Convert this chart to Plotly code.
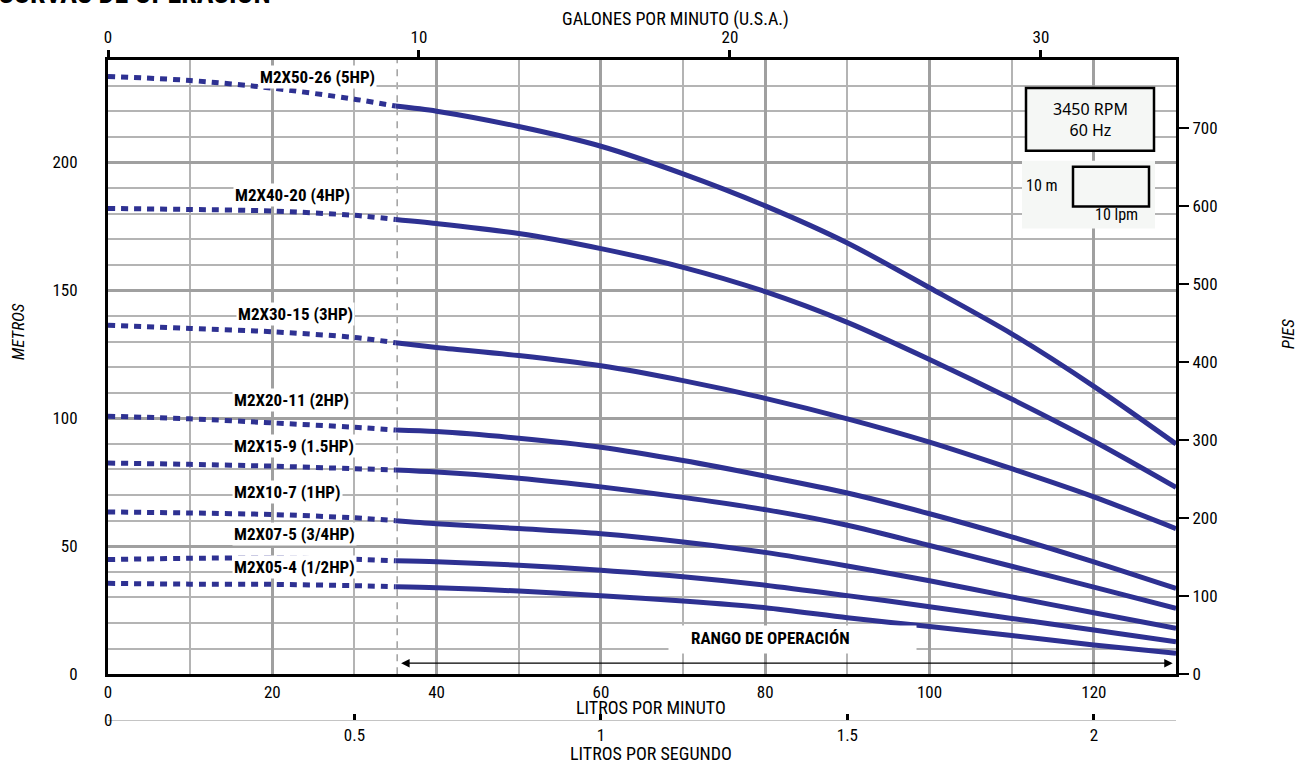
import plotly.graph_objects as go

# ---------------- data ----------------
LPM = [0, 10, 20, 30, 35, 40, 50, 60, 70, 80, 90, 100, 110, 120, 130]
SPLIT_LPM = 35

MODELS = ["M2X50-26 (5HP)", "M2X40-20 (4HP)", "M2X30-15 (3HP)", "M2X20-11 (2HP)",
          "M2X15-9 (1.5HP)", "M2X10-7 (1HP)", "M2X07-5 (3/4HP)", "M2X05-4 (1/2HP)"]

HEAD_50_26 = [233.6, 232.0, 229.0, 224.7, 222.0, 220.0, 214.0, 206.3, 195.5, 183.0, 168.5, 151.0, 133.0, 112.5, 90.0]
HEAD_40_20 = [182.0, 181.6, 181.0, 179.3, 177.7, 176.1, 172.2, 166.3, 159.0, 149.5, 137.5, 123.0, 107.5, 91.0, 73.0]
HEAD_30_15 = [136.4, 135.1, 133.8, 131.6, 129.5, 127.7, 124.5, 120.5, 114.7, 107.8, 99.8, 90.7, 80.3, 69.3, 56.9]
HEAD_20_11 = [100.8, 99.8, 98.2, 96.5, 95.4, 94.8, 92.2, 88.7, 83.5, 77.4, 70.8, 62.7, 53.7, 43.9, 33.5]
HEAD_15_9 = [82.5, 82.0, 81.3, 80.3, 79.8, 79.0, 76.6, 73.2, 69.1, 64.3, 58.2, 50.3, 42.2, 34.0, 25.7]
HEAD_10_7 = [63.4, 63.0, 62.4, 61.1, 60.0, 58.8, 56.9, 54.9, 51.7, 47.6, 42.3, 36.5, 30.2, 24.0, 17.9]
HEAD_07_5 = [44.8, 45.3, 45.4, 44.9, 44.3, 43.9, 42.6, 40.6, 38.1, 34.8, 30.7, 26.4, 21.8, 17.3, 12.7]
HEAD_05_4 = [35.5, 35.2, 35.1, 34.6, 34.2, 33.8, 32.5, 30.7, 28.6, 26.0, 22.1, 18.6, 15.1, 11.4, 8.2]

HEADS = [HEAD_50_26, HEAD_40_20, HEAD_30_15, HEAD_20_11, HEAD_15_9, HEAD_10_7, HEAD_07_5, HEAD_05_4]

LPM_TICKS = [0, 20, 40, 60, 80, 100, 120]
M_TICKS = [0, 50, 100, 150, 200]
GPM_TICKS = [0, 10, 20, 30]
FT_TICKS = [0, 100, 200, 300, 400, 500, 600, 700]
LPS_TICKS = [0.5, 1, 1.5, 2]
OP_RANGE = [35.5, 129.6]

LPM_MAX = 130
M_MAX = 240
LPM_PER_GPM = 3.78541
M_PER_FT = 0.3048

# ---------------- layout helpers ----------------
W, H = 1305, 768
ML, MR, MT, MB = 108, 129, 60, 20
PW, PH = W - ML - MR, H - MT - MB


def px(x):
    return (x - ML) / PW


def py(y):
    return (H - MB - y) / PH


COND = "Roboto Condensed, Roboto, Liberation Sans, sans-serif"
BLUE = "#2e3192"

fig = go.Figure()

i_split = LPM.index(SPLIT_LPM)
for name, head in zip(MODELS, HEADS):
    fig.add_trace(go.Scatter(x=LPM[:i_split + 1], y=head[:i_split + 1], mode="lines",
                             line=dict(color=BLUE, width=5, dash="7px,6px", shape="spline", smoothing=0.8),
                             showlegend=False, hoverinfo="skip", xaxis="x", yaxis="y"))
    fig.add_trace(go.Scatter(x=LPM[i_split:], y=head[i_split:], mode="lines", name=name,
                             line=dict(color=BLUE, width=5, shape="spline", smoothing=0.8),
                             showlegend=False, xaxis="x", yaxis="y"))

# dummy traces so the secondary axes are drawn
fig.add_trace(go.Scatter(x=[], y=[], xaxis="x2", yaxis="y", showlegend=False))
fig.add_trace(go.Scatter(x=[], y=[], xaxis="x", yaxis="y2", showlegend=False))
fig.add_trace(go.Scatter(x=[], y=[], xaxis="x3", yaxis="y", showlegend=False))

tickfont = dict(family=COND, size=17, color="black")

fig.update_layout(
    width=W, height=H,
    margin=dict(l=ML, r=MR, t=MT, b=MB),
    paper_bgcolor="white", plot_bgcolor="white",
    xaxis=dict(range=[0, LPM_MAX], tickvals=LPM_TICKS, ticks="", tickfont=tickfont,
               showline=True, linecolor="black", linewidth=3, mirror=True,
               showgrid=True, gridcolor="#a0a0a0", gridwidth=2.5, zeroline=False,
               minor=dict(dtick=10, tick0=0, showgrid=True, gridcolor="#b4b4b4", gridwidth=1.5),
               anchor="y"),
    yaxis=dict(range=[0, M_MAX], tickvals=M_TICKS, ticks="", tickfont=tickfont,
               domain=[py(676), 1], ticklabelstandoff=24,
               showline=True, linecolor="black", linewidth=3, mirror=True,
               showgrid=True, gridcolor="#a0a0a0", gridwidth=2.5, zeroline=False,
               minor=dict(dtick=10, tick0=0, showgrid=True, gridcolor="#b4b4b4", gridwidth=1.5),
               anchor="x"),
    xaxis2=dict(range=[0, LPM_MAX / LPM_PER_GPM], tickvals=GPM_TICKS, overlaying="x", side="top",
                anchor="y", ticks="outside", ticklen=9, tickwidth=3, tickcolor="black",
                tickfont=tickfont, showgrid=False, zeroline=False, showline=False),
    yaxis2=dict(range=[0, M_MAX / M_PER_FT], tickvals=FT_TICKS, overlaying="y", side="right",
                anchor="x", ticks="outside", ticklen=12, tickwidth=1.5, tickcolor="black",
                tickfont=tickfont, showgrid=False, zeroline=False, showline=False),
    xaxis3=dict(range=[0, LPM_MAX / 60], tickvals=LPS_TICKS, overlaying="x", side="bottom",
                anchor="free", position=py(722), ticks="inside", ticklen=6, tickwidth=3,
                tickcolor="black", tickfont=tickfont, showgrid=False, zeroline=False,
                showline=True, linecolor="#c4c4c4", linewidth=1),
)

shapes = []
# operating-range limit (dashed vertical)
shapes.append(dict(type="line", xref="x", yref="y domain", x0=OP_RANGE[0] - 0.3, x1=OP_RANGE[0] - 0.3,
                   y0=0, y1=1, line=dict(color="#a0a0a0", width=1.5, dash="7px,6px"), layer="below"))
# RPM box
shapes.append(dict(type="rect", xref="paper", yref="paper", x0=px(1026), x1=px(1154), y0=py(151), y1=py(88),
                   fillcolor="#f5f7f5", line=dict(color="black", width=2.5), layer="above"))
# scale box background + inner box
shapes.append(dict(type="rect", xref="paper", yref="paper", x0=px(1022), x1=px(1155), y0=py(229), y1=py(161),
                   fillcolor="#f5f7f5", line=dict(width=0), layer="above"))
shapes.append(dict(type="rect", xref="paper", yref="paper", x0=px(1073), x1=px(1149), y0=py(207), y1=py(167),
                   fillcolor="#f5f7f5", line=dict(color="black", width=2.5), layer="above"))
fig.update_layout(shapes=shapes)

LABEL_POS = [(260, 77), (235, 195), (238, 315), (234, 401), (234, 447), (234, 493), (234, 535), (234, 568)]

ann = []
for name, (lx, ly) in zip(MODELS, LABEL_POS):
    ann.append(dict(text="<b>" + name + "</b>", xref="paper", yref="paper", x=px(lx - 2), y=py(ly),
                    xanchor="left", yanchor="middle", showarrow=False, bgcolor="white", borderpad=1,
                    font=dict(family=COND, size=17, color="black")))

# white patch hiding the grid behind the operating-range label
ann.append(dict(text=" ", xref="paper", yref="paper", x=px(792), y=py(641),
                xanchor="center", yanchor="middle", showarrow=False, bgcolor="white",
                width=247, height=27, borderpad=0, font=dict(size=10)))
ann.append(dict(text="<b>RANGO DE OPERACIÓN</b>", xref="paper", yref="paper", x=px(770), y=py(640),
                xanchor="center", yanchor="middle", showarrow=False,
                font=dict(family=COND, size=17, color="black")))
# double arrow for operating range
ann.append(dict(text="", xref="x", yref="y", axref="x", ayref="y", x=OP_RANGE[1], y=4.3,
                ax=OP_RANGE[0], ay=4.3, showarrow=True, arrowhead=2, startarrowhead=2,
                arrowside="end+start", arrowsize=1.3, arrowwidth=1.3, arrowcolor="black",
                startstandoff=0, standoff=0))

ann.append(dict(text="3450 RPM<br>60 Hz", xref="paper", yref="paper", x=px(1090), y=py(120),
                xanchor="center", yanchor="middle", showarrow=False,
                font=dict(family="Noto Sans, sans-serif", size=16, color="black")))
ann.append(dict(text="10 m", xref="paper", yref="paper", x=px(1042), y=py(186),
                xanchor="center", yanchor="middle", showarrow=False,
                font=dict(family=COND, size=16, color="black")))
ann.append(dict(text="10 lpm", xref="paper", yref="paper", x=px(1116), y=py(215),
                xanchor="center", yanchor="middle", showarrow=False,
                font=dict(family=COND, size=16, color="black")))

ann.append(dict(text="GALONES POR MINUTO (U.S.A.)", xref="paper", yref="paper", x=px(675), y=py(19),
                xanchor="center", yanchor="middle", showarrow=False,
                font=dict(family=COND, size=18, color="black")))
ann.append(dict(text="LITROS POR MINUTO", xref="paper", yref="paper", x=px(651), y=py(709),
                xanchor="center", yanchor="middle", showarrow=False,
                font=dict(family=COND, size=18, color="black")))
ann.append(dict(text="LITROS POR SEGUNDO", xref="paper", yref="paper", x=px(651), y=py(756),
                xanchor="center", yanchor="middle", showarrow=False,
                font=dict(family=COND, size=18, color="black")))
ann.append(dict(text="0", xref="paper", yref="paper", x=px(108), y=py(722),
                xanchor="center", yanchor="middle", showarrow=False,
                font=dict(family=COND, size=17, color="black")))
ann.append(dict(text="<i>METROS</i>", xref="paper", yref="paper", x=px(18), y=py(333),
                xanchor="center", yanchor="middle", showarrow=False, textangle=-90,
                font=dict(family=COND, size=17, color="black")))
ann.append(dict(text="<i>PIES</i>", xref="paper", yref="paper", x=px(1288), y=py(335),
                xanchor="center", yanchor="middle", showarrow=False, textangle=-90,
                font=dict(family=COND, size=17, color="black")))
ann.append(dict(text="<b>CURVAS DE OPERACIÓN</b>", xref="paper", yref="paper", x=px(273), y=py(12),
                xanchor="right", yanchor="bottom", showarrow=False,
                font=dict(family=COND, size=28, color="black")))
fig.update_layout(annotations=ann)

fig.write_html("out.html", config={"displayModeBar": False},
               post_script="document.body.style.margin='0px';document.body.style.overflow='hidden';")
